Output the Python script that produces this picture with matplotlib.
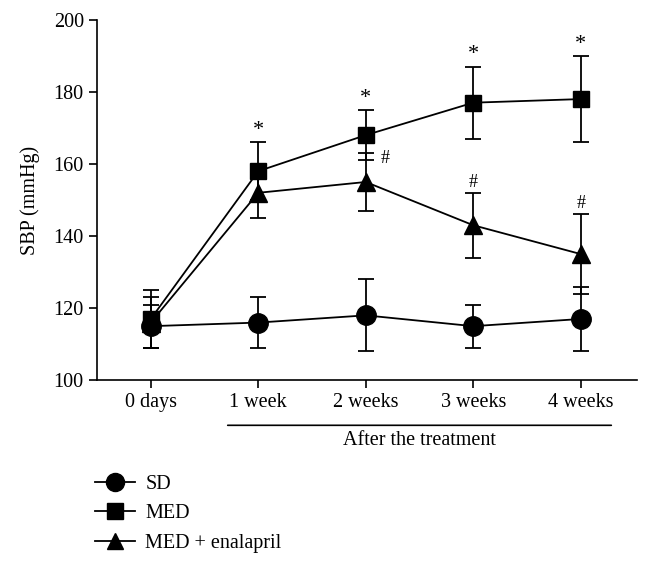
import matplotlib.pyplot as plt
from matplotlib.lines import Line2D

plt.rcParams['font.family'] = ['Liberation Serif', 'DejaVu Serif']

# data
labels = ['0 days', '1 week', '2 weeks', '3 weeks', '4 weeks']
sd = [115, 116, 118, 115, 117]
sd_err = [6, 7, 10, 6, 9]
med = [117, 158, 168, 177, 178]
med_err = [8, 8, 7, 10, 12]
ena = [116, 152, 155, 143, 135]
ena_err = [7, 7, 8, 9, 11]
star_marks = [None, '*', '*', '*', '*']
hash_marks = [None, None, '#', '#', '#']

x = list(range(len(labels)))

fig = plt.figure(figsize=(6.51, 5.65), dpi=100)
ax = fig.add_axes([0.149, 0.327, 0.829, 0.638])

common = dict(color='black', lw=1.3, capsize=6, elinewidth=1.3, capthick=1.3,
              clip_on=False, zorder=3)
ax.errorbar(x, sd, yerr=sd_err, marker='o', markersize=14, **common)
ax.errorbar(x, med, yerr=med_err, marker='s', markersize=12, **common)
ax.errorbar(x, ena, yerr=ena_err, marker='^', markersize=12.5, **common)

# significance marks
for i in x:
    if star_marks[i]:
        ax.text(i, med[i] + med_err[i] + 0.6, star_marks[i], ha='center', va='bottom', fontsize=16)
    if hash_marks[i]:
        if i == 2:
            ax.text(i + 0.14, ena[i] + ena_err[i] - 1.5, hash_marks[i], ha='left', va='center', fontsize=13)
        else:
            ax.text(i, ena[i] + ena_err[i] + 0.6, hash_marks[i], ha='center', va='bottom', fontsize=13)

ax.set_xlim(-0.5, 4.52)
ax.set_ylim(100, 200)
ax.set_yticks(range(100, 201, 20))
ax.set_xticks(x)
ax.set_xticklabels(labels)
ax.tick_params(labelsize=14.5, length=6, width=1.2, direction='out')
ax.set_ylabel('SBP (mmHg)', fontsize=14.5, labelpad=10)
for s in ['top', 'right']:
    ax.spines[s].set_visible(False)
for s in ['left', 'bottom']:
    ax.spines[s].set_linewidth(1.2)

# "After the treatment" bracket
ax.annotate('', xy=(0.69, -0.125), xytext=(4.31, -0.125), xycoords=('data', 'axes fraction'),
            arrowprops=dict(arrowstyle='-', lw=1.2, color='black'))
ax.text(2.5, -0.168, 'After the treatment', transform=ax.get_xaxis_transform(),
        ha='center', va='center', fontsize=14.5)

handles = [Line2D([], [], color='black', lw=1.3, marker='o', markersize=13),
           Line2D([], [], color='black', lw=1.3, marker='s', markersize=11),
           Line2D([], [], color='black', lw=1.3, marker='^', markersize=12)]
fig.legend(handles, ['SD', 'MED', 'MED + enalapril'], loc='upper left',
           bbox_to_anchor=(0.146, 0.159), frameon=False, fontsize=14.5,
           handlelength=2.0, handletextpad=0.5, labelspacing=0.5, borderpad=0,
           borderaxespad=0)

fig.savefig('out.png', dpi=100)
